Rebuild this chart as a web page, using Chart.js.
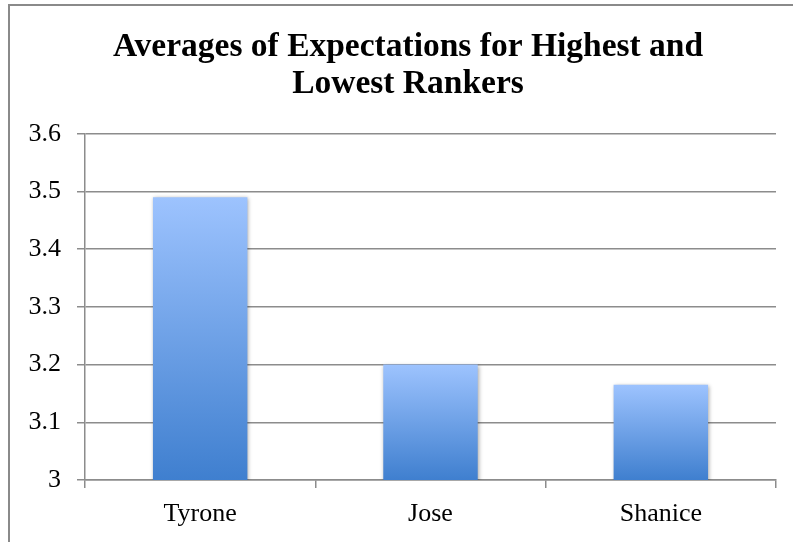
<!DOCTYPE html>
<html>
<head>
<meta charset="utf-8">
<script src="https://cdn.jsdelivr.net/npm/chart.js@4"></script>
<style>
  html, body { margin: 0; padding: 0; background: #fff; overflow: hidden; }
  #wrap { position: relative; width: 793px; height: 542px; }
  #frame { position: absolute; left: 8px; top: 4px; width: 900px; height: 700px; border: 2px solid #8a8a8a; box-sizing: border-box; }
  canvas { position: absolute; left: 0; top: 0; }
</style>
</head>
<body>
<div id="wrap">
  <div id="frame"></div>
  <canvas id="chart" width="793" height="542"></canvas>
</div>
<script>
const titleLines = ['Averages of Expectations for Highest and', 'Lowest Rankers'];
const names = ['Tyrone', 'Jose', 'Shanice'];
const averages = [3.49, 3.2, 3.165];
const yMin = 3, yMax = 3.6, yStep = 0.1;

const gridColor = '#8c8c8c';
const labelFont = { family: '"Liberation Serif", serif', size: 26 };

// light blue at the top of each bar, darker at the base
function barGradient(context) {
    const chart = context.chart;
    if (!chart.chartArea || context.raw === undefined) return '#6fa0e8';
    const y = chart.scales.y;
    const top = y.getPixelForValue(context.raw);
    const bottom = y.getPixelForValue(yMin);
    const g = chart.ctx.createLinearGradient(0, top, 0, bottom);
    g.addColorStop(0, '#9dc3fe');
    g.addColorStop(1, '#3f7fcf');
    return g;
}

const barShadow = {
    id: 'barShadow',
    beforeDatasetsDraw(chart) {
        const ctx = chart.ctx;
        ctx.save();
        ctx.shadowColor = 'rgba(0,0,0,0.35)';
        ctx.shadowBlur = 4;
        ctx.shadowOffsetX = 1;
        ctx.shadowOffsetY = 1;
    },
    afterDatasetsDraw(chart) {
        chart.ctx.restore();
    }
};

// the title is centred over the whole frame, a little right of the canvas centre
const titleShift = {
    id: 'titleShift',
    afterLayout(chart) {
        if (chart.titleBlock) chart.titleBlock.left += 40;
    }
};

new Chart(document.getElementById('chart'), {
    type: 'bar',
    data: {
        labels: names,
        datasets: [{
            data: averages,
            backgroundColor: barGradient,
            borderWidth: 0,
            categoryPercentage: 1,
            barPercentage: 0.41
        }]
    },
    plugins: [barShadow, titleShift],
    options: {
        responsive: false,
        animation: false,
        layout: { padding: { left: 0, right: 17, top: 0, bottom: 0 } },
        plugins: {
            legend: { display: false },
            tooltip: { enabled: false },
            title: {
                display: true,
                text: titleLines,
                color: '#000',
                font: { family: '"Liberation Serif", serif', size: 33.5, weight: 'bold', lineHeight: 1.13 },
                padding: { top: 28, bottom: 30 }
            }
        },
        scales: {
            x: {
                grid: { drawOnChartArea: false, drawTicks: true, tickLength: 8, color: gridColor, lineWidth: 1.5, offset: true },
                border: { color: gridColor, width: 1.5 },
                ticks: { color: '#000', padding: 11, font: labelFont },
                afterFit(scale) { scale.height = 62; }
            },
            y: {
                min: yMin,
                max: yMax,
                grid: { color: gridColor, lineWidth: 1.5, tickLength: 8 },
                border: { color: gridColor, width: 1.5 },
                ticks: {
                    stepSize: yStep,
                    color: '#000',
                    padding: 16,
                    font: labelFont,
                    callback: v => String(+v.toFixed(1))
                },
                afterFit(scale) { scale.width = 85; }
            }
        }
    }
});
</script>
</body>
</html>
